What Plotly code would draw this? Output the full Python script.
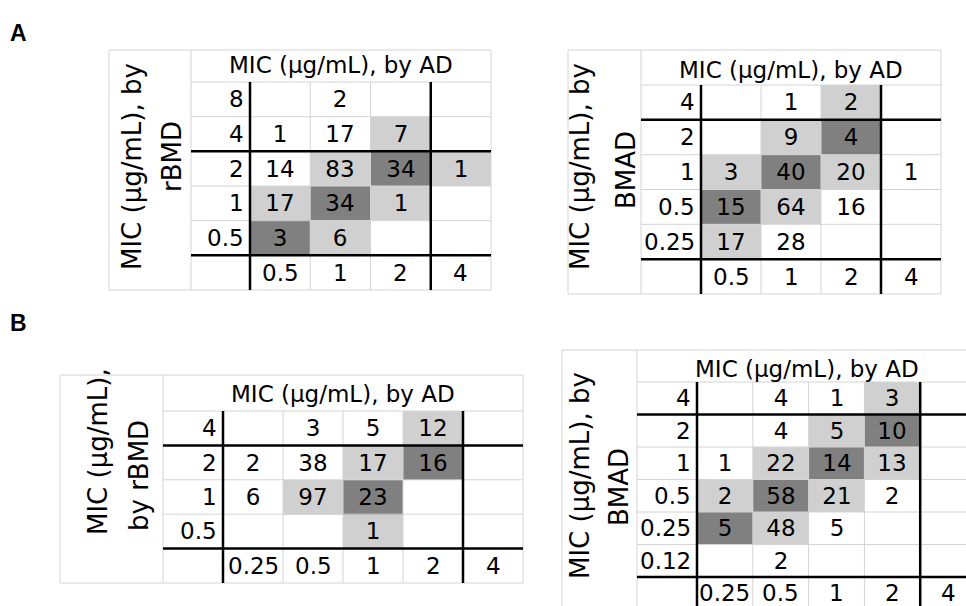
import plotly.graph_objects as go

W, H = 966, 606

# ---------------- data ----------------
x_title = "MIC (µg/mL), by AD"

aL_rows = ["8", "4", "2", "1", "0.5"]
aL_cols = ["0.5", "1", "2", "4"]
aL_counts = [[None, 2, None, None],
             [1, 17, 7, None],
             [14, 83, 34, 1],
             [17, 34, 1, None],
             [3, 6, None, None]]
aL_shade = [[0, 0, 0, 0],
            [0, 0, 1, 0],
            [0, 1, 2, 1],
            [1, 2, 1, 0],
            [2, 1, 0, 0]]
aL_ylab = ["MIC (µg/mL), by", "rBMD"]

aR_rows = ["4", "2", "1", "0.5", "0.25"]
aR_cols = ["0.5", "1", "2", "4"]
aR_counts = [[None, 1, 2, None],
             [None, 9, 4, None],
             [3, 40, 20, 1],
             [15, 64, 16, None],
             [17, 28, None, None]]
aR_shade = [[0, 0, 1, 0],
            [0, 1, 2, 0],
            [1, 2, 1, 0],
            [2, 1, 0, 0],
            [1, 0, 0, 0]]
aR_ylab = ["MIC (µg/mL), by", "BMAD"]

bL_rows = ["4", "2", "1", "0.5"]
bL_cols = ["0.25", "0.5", "1", "2", "4"]
bL_counts = [[None, 3, 5, 12, None],
             [2, 38, 17, 16, None],
             [6, 97, 23, None, None],
             [None, None, 1, None, None]]
bL_shade = [[0, 0, 0, 1, 0],
            [0, 0, 1, 2, 0],
            [0, 1, 2, 0, 0],
            [0, 0, 1, 0, 0]]
bL_ylab = ["MIC (µg/mL),", "by rBMD"]

bR_rows = ["4", "2", "1", "0.5", "0.25", "0.12"]
bR_cols = ["0.25", "0.5", "1", "2", "4"]
bR_counts = [[None, 4, 1, 3, None],
             [None, 4, 5, 10, None],
             [1, 22, 14, 13, None],
             [2, 58, 21, 2, None],
             [5, 48, 5, None, None],
             [None, 2, None, None, None]]
bR_shade = [[0, 0, 0, 1, 0],
            [0, 0, 1, 2, 0],
            [0, 1, 2, 1, 0],
            [1, 2, 1, 0, 0],
            [2, 1, 0, 0, 0],
            [0, 0, 0, 0, 0]]
bR_ylab = ["MIC (µg/mL), by", "BMAD"]

# ---------------- layout / style ----------------
FONT = "DejaVu Sans"
CELL_SIZE = 23
YLAB_SIZE = 26
THIN = "#d4d4d4"
THICK = "#000000"
SHADES = [[0, "#ffffff"], [0.5, "#d0d0d0"], [1, "#808080"]]

panels = [
    dict(rows=aL_rows, cols=aL_cols, counts=aL_counts, shade=aL_shade, ylab=aL_ylab,
         g=dict(ylab_left=109, lab_left=191, data_left=250, data_right=491,
                top=50, data_top=82, bottom=290),
         thick_rows=[1.5, 4.5], thick_cols=[-0.5, 2.5],
         header_py=65, ylab_pos=[(132, 167), (172, 157)]),
    dict(rows=aR_rows, cols=aR_cols, counts=aR_counts, shade=aR_shade, ylab=aR_ylab,
         g=dict(ylab_left=568, lab_left=641, data_left=701, data_right=941,
                top=50, data_top=85, bottom=294),
         thick_rows=[0.5, 4.5], thick_cols=[-0.5, 2.5],
         header_py=70, ylab_pos=[(580, 167), (626, 170)]),
    dict(rows=bL_rows, cols=bL_cols, counts=bL_counts, shade=bL_shade, ylab=bL_ylab,
         g=dict(ylab_left=60, lab_left=163, data_left=223, data_right=523,
                top=375, data_top=411, bottom=583),
         thick_rows=[0.5, 3.5], thick_cols=[-0.5, 3.5],
         header_py=394, ylab_pos=[(98, 452), (139, 476)]),
    dict(rows=bR_rows, cols=bR_cols, counts=bR_counts, shade=bR_shade, ylab=bR_ylab,
         g=dict(ylab_left=562, lab_left=637, data_left=697, data_right=976,
                top=350, data_top=382, bottom=609.5),
         thick_rows=[0.5, 5.5], thick_cols=[-0.5, 3.5],
         header_py=369, ylab_pos=[(580, 476), (619, 487)]),
]

fig = go.Figure()
shapes, annotations = [], []
PAD = 3

for k, p in enumerate(panels, start=1):
    g = p["g"]
    nr, nc = len(p["rows"]), len(p["cols"])
    cw = (g["data_right"] - g["data_left"]) / nc
    rh = (g["bottom"] - g["data_top"]) / (nr + 1)

    def X(px, g=g, cw=cw):
        return (px - g["data_left"]) / cw - 0.5

    def Y(py, g=g, rh=rh):
        return (py - g["data_top"]) / rh - 0.5

    x0 = max(g["ylab_left"] - PAD, 0)
    x1 = min(g["data_right"] + PAD, W)
    y0 = max(g["top"] - PAD, 0)
    y1 = min(g["bottom"] + PAD, H)
    sfx = "" if k == 1 else str(k)
    xa, ya = "x" + sfx, "y" + sfx
    fig.update_layout({
        "xaxis" + sfx: dict(domain=[x0 / W, x1 / W], range=[X(x0), X(x1)], anchor=ya,
                            visible=False, fixedrange=True),
        "yaxis" + sfx: dict(domain=[1 - y1 / H, 1 - y0 / H], range=[Y(y1), Y(y0)], anchor=xa,
                            visible=False, fixedrange=True),
    })

    text = [["" if c is None else str(c) for c in row] for row in p["counts"]]
    fig.add_trace(go.Heatmap(
        z=p["shade"], x=list(range(nc)), y=list(range(nr)), text=text,
        texttemplate="%{text}", textfont=dict(family=FONT, size=CELL_SIZE, color="#000"),
        colorscale=SHADES, zmin=0, zmax=2, showscale=False, hoverinfo="skip",
        xaxis=xa, yaxis=ya))

    L, R = X(g["ylab_left"]), X(g["data_right"])
    LL = X(g["lab_left"])
    T, DT, B = Y(g["top"]), Y(g["data_top"]), Y(g["bottom"])

    def line(xs, ys, color, width):
        shapes.append(dict(type="line", xref=xa, yref=ya, x0=xs[0], x1=xs[1],
                           y0=ys[0], y1=ys[1], line=dict(color=color, width=width)))

    # thin grid
    line((L, R), (T, T), THIN, 1)
    line((L, R), (B, B), THIN, 1)
    line((L, L), (T, B), THIN, 1)
    line((LL, LL), (T, B), THIN, 1)
    line((R, R), (T, B), THIN, 1)
    for j in range(nc):
        line((j - 0.5, j - 0.5), (DT, B), THIN, 1)
    for i in range(nr + 1):
        line((LL, R), (i - 0.5, i - 0.5), THIN, 1)
    # thick breakpoint lines
    for yy in p["thick_rows"]:
        line((LL, R), (yy, yy), THICK, 2.5)
    for xx in p["thick_cols"]:
        line((xx, xx), (DT, B), THICK, 2.5)

    # row labels
    for i, lab in enumerate(p["rows"]):
        annotations.append(dict(xref=xa, yref=ya, x=X(g["data_left"] - 4), y=i, text=lab,
                                xanchor="right", yanchor="middle", showarrow=False,
                                font=dict(family=FONT, size=CELL_SIZE, color="#000")))
    # column labels
    for j, lab in enumerate(p["cols"]):
        annotations.append(dict(xref=xa, yref=ya, x=j, y=nr, text=lab,
                                xanchor="center", yanchor="middle", showarrow=False,
                                font=dict(family=FONT, size=CELL_SIZE, color="#000")))
    # header
    annotations.append(dict(xref=xa, yref=ya, x=X((g["lab_left"] + g["data_right"]) / 2),
                            y=Y(p["header_py"]), text=x_title, xanchor="center",
                            yanchor="middle", showarrow=False,
                            font=dict(family=FONT, size=CELL_SIZE, color="#000")))
    # y label lines
    for txt, (px, py) in zip(p["ylab"], p["ylab_pos"]):
        annotations.append(dict(xref=xa, yref=ya, x=X(px), y=Y(py), text=txt, textangle=-90,
                                xanchor="center", yanchor="middle", showarrow=False,
                                font=dict(family=FONT, size=YLAB_SIZE, color="#000")))

for letter, (px, py) in zip(["A", "B"], [(18, 33), (18, 323)]):
    annotations.append(dict(xref="paper", yref="paper", x=px / W, y=1 - py / H, text="<b>%s</b>" % letter,
                            xanchor="center", yanchor="middle", showarrow=False,
                            font=dict(family="Liberation Sans", size=23, color="#000")))

fig.update_layout(width=W, height=H, margin=dict(l=0, r=0, t=0, b=0),
                  paper_bgcolor="white", plot_bgcolor="white",
                  shapes=shapes, annotations=annotations, showlegend=False)
fig.write_html("out.html", config={"displayModeBar": False, "staticPlot": True},
               post_script="document.body.style.margin='0px';document.body.style.overflow='hidden';")
